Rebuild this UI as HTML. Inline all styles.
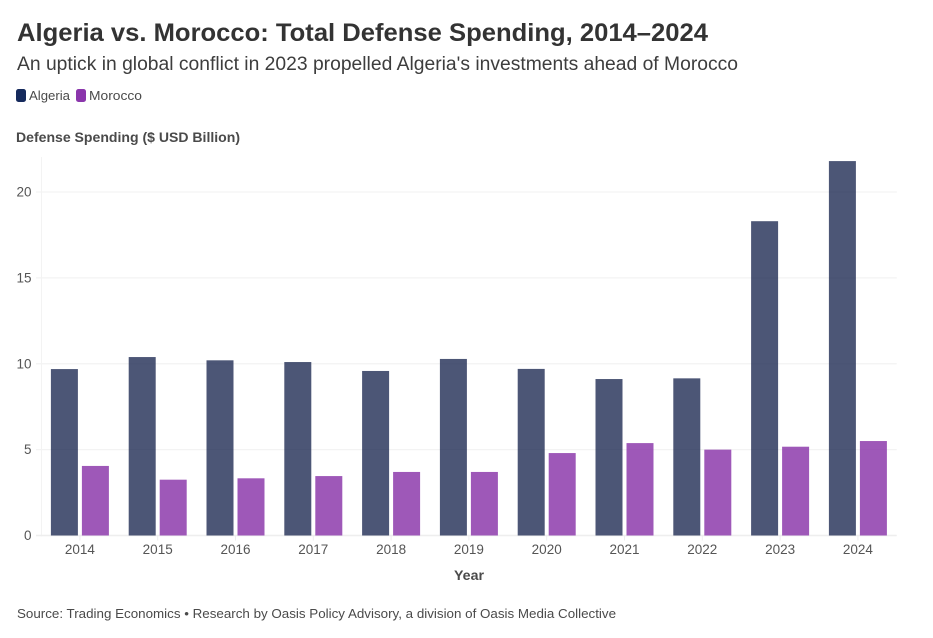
<!DOCTYPE html>
<html lang="en">
<head>
<meta charset="utf-8">
<title>Algeria vs. Morocco: Total Defense Spending</title>
<style>
html,body{margin:0;padding:0;background:#fff;width:933px;height:638px;overflow:hidden}
svg{display:block}
text{font-family:"Liberation Sans",sans-serif}
</style>
</head>
<body>
<svg id="chart" width="933" height="638" viewBox="0 0 933 638" xmlns="http://www.w3.org/2000/svg">
  <text x="17" y="41" font-size="25" font-weight="700" fill="#333333" textLength="691" lengthAdjust="spacingAndGlyphs">Algeria vs. Morocco: Total Defense Spending, 2014–2024</text>
  <text x="17" y="70" font-size="19" fill="#3d3d3d" textLength="721" lengthAdjust="spacingAndGlyphs">An uptick in global conflict in 2023 propelled Algeria's investments ahead of Morocco</text>
  <rect x="16" y="89" width="10" height="13" rx="2.5" fill="#152a5c"/>
  <text x="29" y="100" font-size="13" fill="#4a4a4a" textLength="41" lengthAdjust="spacingAndGlyphs">Algeria</text>
  <rect x="76" y="89" width="10" height="13" rx="2.5" fill="#8b36ac"/>
  <text x="89" y="100" font-size="13" fill="#4a4a4a" textLength="53" lengthAdjust="spacingAndGlyphs">Morocco</text>
  <text x="16" y="142" font-size="14" font-weight="700" fill="#4a4a4a" textLength="224" lengthAdjust="spacingAndGlyphs">Defense Spending ($ USD Billion)</text>
  <g id="grid"></g>
  <g id="bars"></g>
  <g id="labels"></g>
  <text x="469" y="580" font-size="13.5" font-weight="700" fill="#4a4a4a" text-anchor="middle" textLength="30" lengthAdjust="spacingAndGlyphs">Year</text>
  <text x="17" y="618" font-size="13" fill="#4a4a4a" textLength="599" lengthAdjust="spacingAndGlyphs">Source: Trading Economics • Research by Oasis Policy Advisory, a division of Oasis Media Collective</text>
</svg>
<script>
const years = ['2014','2015','2016','2017','2018','2019','2020','2021','2022','2023','2024'];
const algeria = [9.69,10.39,10.2,10.1,9.58,10.28,9.7,9.11,9.15,18.3,21.8];
const morocco = [4.05,3.25,3.33,3.46,3.7,3.7,4.8,5.38,5.0,5.17,5.5];
const yTicks = [0,5,10,15,20];

const NS = 'http://www.w3.org/2000/svg';
const plot = {left:41, right:896.8, zero:535.5, perUnit:17.175, top:157};
const step = (plot.right - plot.left) / years.length;
const xCenter = i => plot.left + step * (i + 0.5);
const yPos = v => plot.zero - v * plot.perUnit;

function make(tag, attrs, parent, text) {
  const el = document.createElementNS(NS, tag);
  for (const k in attrs) el.setAttribute(k, attrs[k]);
  if (text !== undefined) el.textContent = text;
  parent.appendChild(el);
  return el;
}

const grid = document.getElementById('grid');
const bars = document.getElementById('bars');
const labels = document.getElementById('labels');

const yAxisLine = make('line', {x1:plot.left + 0.5, x2:plot.left + 0.5, y1:plot.top, y2:plot.zero + 1, stroke:'#f3f3f3', 'stroke-width':1}, grid);



yTicks.forEach(t => {
  const gl = make('line', {x1:36, x2:plot.right, y1:yPos(t), y2:yPos(t), stroke:t === 0 ? '#eeeeee' : '#f3f3f3', 'stroke-width':t === 0 ? 1.4 : 1.2}, grid);
  
  
  const lb = make('text', {x:31.5, y:yPos(t) + 4.5, 'font-size':13.5, fill:'#555555', 'text-anchor':'end'}, labels, String(t));
  
  
});

const barW = 27;
years.forEach((year, i) => {
  const c = xCenter(i);
  const tick = make('line', {x1:c, x2:c, y1:plot.zero, y2:plot.zero + 5, stroke:'#eeeeee', 'stroke-width':1}, grid);
  
  

  const a = make('rect', {x:c - 29, y:yPos(algeria[i]), width:barW, height:plot.zero - yPos(algeria[i]), fill:'#14214b', 'fill-opacity':0.76}, bars);
  
  

  const m = make('rect', {x:c + 2, y:yPos(morocco[i]), width:barW, height:plot.zero - yPos(morocco[i]), fill:'#8831a7', 'fill-opacity':0.81}, bars);
  
  

  const lb = make('text', {x:c, y:554, 'font-size':13.5, fill:'#555555', 'text-anchor':'middle'}, labels, year);
  
  
});
</script>
</body>
</html>
